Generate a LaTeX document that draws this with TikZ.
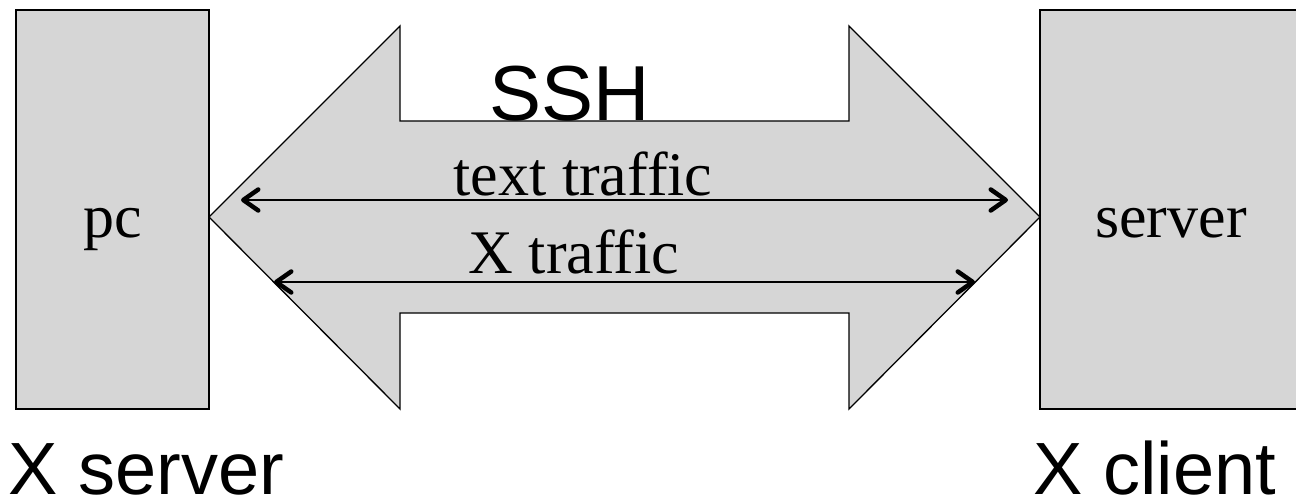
\documentclass[tikz,border=0pt]{standalone}
\usepackage{fontspec}
\setmainfont{Liberation Serif}
\setsansfont{Liberation Sans}
\usetikzlibrary{positioning}
\usetikzlibrary{arrows.meta}
\definecolor{boxgrey}{RGB}{214,214,214}

\begin{document}
\begin{tikzpicture}[x=1pt, y=-1pt, line width=1.3pt,
    hostbox/.style={draw=black, fill=boxgrey},
    serif/.style={font=\fontsize{62}{62}\selectfont, inner sep=0pt, anchor=base},
    roman/.style={font=\sffamily\fontsize{74}{74}\selectfont, inner sep=0pt, anchor=base west},
    flow/.style={line width=1.6pt,
      {Straight Barb[length=15pt,width=21pt,line width=4.5pt,round]}-{Straight Barb[length=15pt,width=21pt,line width=4.5pt,round]}}]
    \useasboundingbox (0,0) rectangle (1296,500);
    \clip (0,0) rectangle (1296,500);
    % hosts
    \draw[hostbox] (16,10) rectangle (209,409);
    \draw[hostbox] (1040,10) rectangle (1310,409);
    % ssh tunnel
    \draw[hostbox, line join=miter] (209,217)--(400,26)--(400,121)--(849,121)--(849,26)--(1040,217)--(849,409)--(849,313)--(400,313)--(400,409)--cycle;
    \node[serif] (pc) at (113,237) {pc};
    \node[serif] (server) at (1171,237) {server};
    \node[font=\sffamily\fontsize{78}{78}\selectfont, inner sep=0pt, anchor=base] (ssh) at (570,121) {SSH};
    \node[serif] (text) at (583,195) {text traffic};
    \node[serif] (xtraffic) at (574,273) {X traffic};
    \node[roman] (xserver) at (8,494) {X server};
    \node[roman] (xclient) at (1033,494) {X client};
    % traffic
    \coordinate (textL) at (241,200);
    \coordinate (textR) at (1008,200);
    \coordinate (xL) at (274,282);
    \coordinate (xR) at (975,282);
    \draw[flow] (textL) -- (textR);
    \draw[flow] (xL) -- (xR);
\end{tikzpicture}
\end{document}
